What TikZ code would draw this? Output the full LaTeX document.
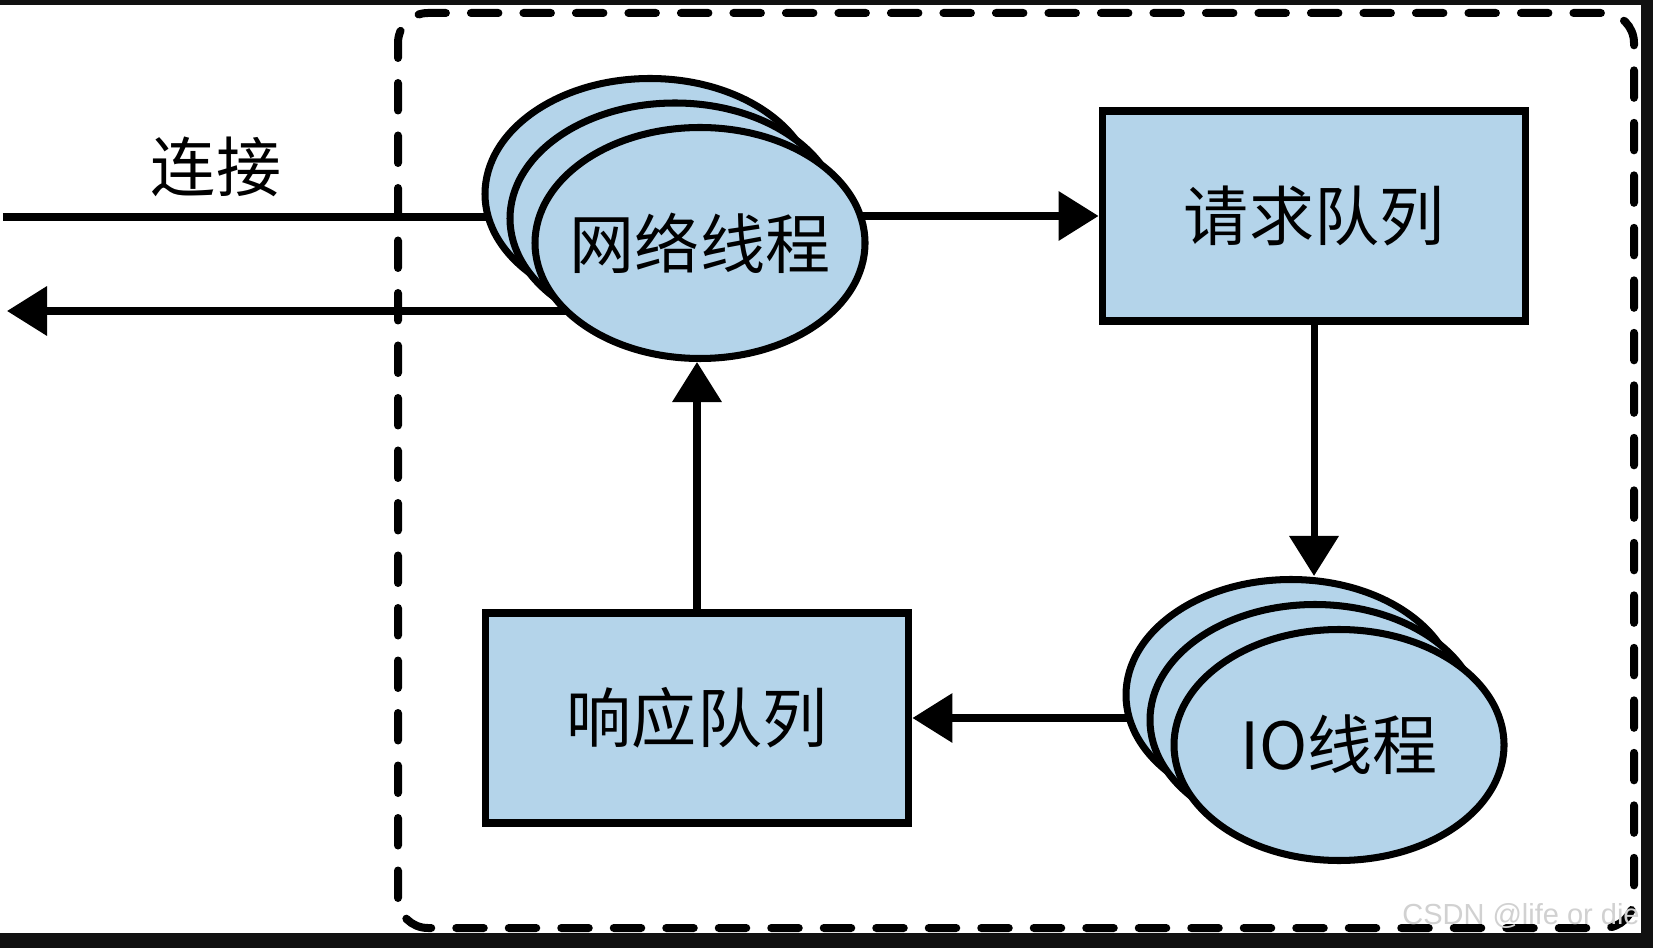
\documentclass[tikz,border=0pt]{standalone}
\usepackage{fontspec}
\newfontfamily\cjk{Noto Sans CJK SC}
\newfontfamily\markfont{Liberation Sans}
\usetikzlibrary{shapes.geometric, arrows.meta, backgrounds}
\definecolor{qblue}{RGB}{180,212,234}
\definecolor{frameblack}{RGB}{17,17,17}

\begin{document}
\begin{tikzpicture}[>={Triangle[length=0.8cm, width=0.96cm]}, line width=4pt,
  thread/.style={draw, ellipse, fill=qblue, minimum width=6.6cm, minimum height=4.62cm, inner sep=0pt},
  queue/.style={draw, rectangle, fill=qblue, line width=4.5pt, minimum width=8.46cm, minimum height=4.2cm, font=\cjk\fontsize{37}{44}\selectfont},
  lbl/.style={font=\cjk\fontsize{37}{44}\selectfont},
  link/.style={line width=4pt}]
\useasboundingbox (0,0) rectangle (33.06,18.96);
\node[lbl] (conn) at (4.32,15.62) {连接};
\coordinate (inL) at (0.06,14.62);
\coordinate (outL) at (0.14,12.74);
% network threads
\node[thread] (net1) at (13.00,15.08) {};
\node[thread] (net2) at (13.50,14.59) {};
\node[thread, label={[lbl]center:网络线程}] (net3) at (14.00,14.10) {};
\node[queue] (req) at (26.28,14.64) {请求队列};
% io threads
\node[thread] (io1) at (25.82,5.06) {};
\node[thread] (io2) at (26.30,4.56) {};
\node[thread, label={[lbl]center:IO线程}] (io3) at (26.78,4.06) {};
\node[queue] (resp) at (13.94,4.60) {响应队列};
\begin{scope}[on background layer]
\fill[white] (0,0) rectangle (33.06,18.96);
\fill[frameblack] (0,18.86) rectangle (33.06,18.96);
\fill[frameblack] (32.82,0) rectangle (33.06,18.96);
\fill[frameblack] (0,0) rectangle (33.06,0.30);
\draw[link] (inL) -- (inL -| net1);
\draw[link, ->] (outL -| net2) -- (outL);
\draw[link, ->] (req.west -| net3) -- (req.west);
\draw[link, ->] (resp.east -| io1) -- (resp.east);
\end{scope}
\draw[->] (req.south) -- (req.south |- io1.north);
\draw[->] (resp.north) -- (resp.north |- net3.south);
\draw[dash pattern=on 0.55cm off 0.5cm, line cap=round, line width=0.16cm, rounded corners=0.6cm] (7.96,0.40) rectangle (32.68,18.70);
\node[font=\markfont\fontsize{16.5}{20}\selectfont, text=black!18] (mark) at (30.42,0.64) {CSDN @life or die};
\end{tikzpicture}
\end{document}
